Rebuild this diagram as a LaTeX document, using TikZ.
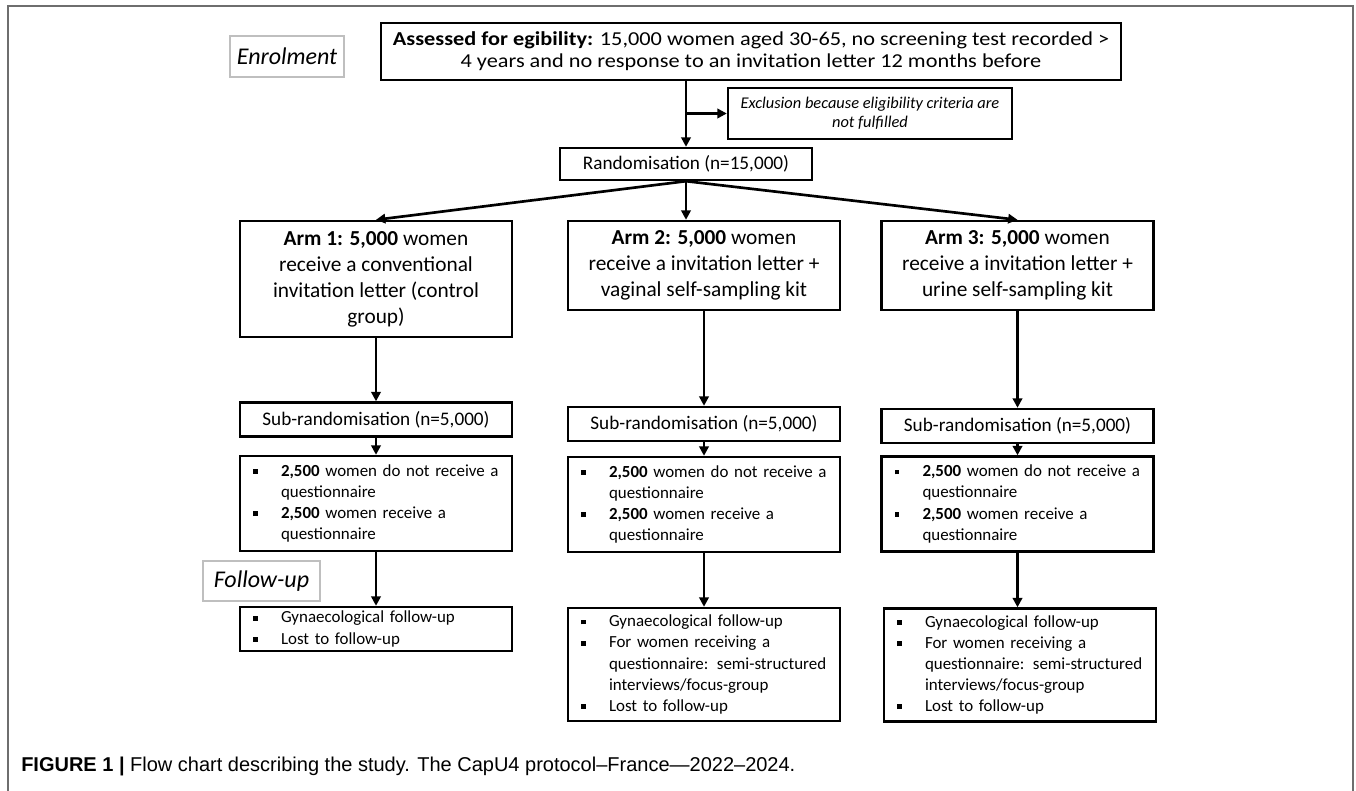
\documentclass[tikz,border=0pt]{standalone}
\usepackage{fontspec}
\setmainfont{Carlito}
\newfontfamily\widefont[FakeStretch=1.13]{Carlito}
\newfontfamily\capfont{Liberation Sans}
\usetikzlibrary{arrows.meta}

\definecolor{framegray}{HTML}{6E6E6E}
\definecolor{labgray}{HTML}{BFBFBF}

% square bullet and hanging indent for the list boxes
\newcommand{\sq}{\hspace*{9.75pt}\makebox[21pt][l]{\rule[0.3ex]{3.6pt}{3.6pt}}}
\newcommand{\ind}{\hspace*{30.75pt}}

\begin{document}
\begin{tikzpicture}[x=0.75pt, y=-0.75pt,
    box/.style = {draw, line width=1.8pt, inner sep=2pt, align=center},
    lab/.style = {draw=labgray, line width=1.5pt, inner sep=0pt, font=\fontsize{18}{20}\selectfont\itshape},
    lst/.style = {box, align=left, inner xsep=0pt, text width=204pt, font=\fontsize{12.7}{15.8}\selectfont},
    txt/.style = {font=\fontsize{14.4}{16}\selectfont},
    big/.style = {font=\fontsize{16}{19.5}\selectfont},
    arm/.style = {box, big, minimum width=204pt},
    arr/.style = {line width=2pt, -{Triangle[length=7pt,width=7pt]}}]
    \useasboundingbox (0,0) rectangle (1356,791);
    \draw[framegray, line width=1.1pt] (8,791) -- (8,6) -- (1353,6) -- (1353,791);

    % enrolment
    \node[lab, minimum width=85pt, minimum height=30.75pt] (enrol) at (287,56.5) {Enrolment};
    \node[box, font=\widefont\fontsize{14.8}{16.3}\selectfont, minimum width=555pt, minimum height=42.75pt] (assess) at (751,51.5)
        {\textbf{Assessed for egibility:} 15,000 women aged 30-65, no screening test recorded >\\
         4 years and no response to an invitation letter 12 months before};
    \node[box, font=\fontsize{12.3}{14.5}\selectfont\itshape, minimum width=213pt, minimum height=38.25pt] (excl) at (870,113.5)
        {Exclusion because eligibility criteria are\\ not fulfilled};
    \node[box, txt, minimum width=189pt, minimum height=24pt] (rand) at (686,164) {Randomisation (n=15,000)};
    \draw[arr] (rand.north |- assess.south) -- (rand.north);
    \draw[arr] (rand.north |- excl.west) -- (excl.west);

    % arms
    \node[arm, minimum height=87pt] (arm1) at (376,279)
        {\textbf{Arm 1: 5,000} women\\ receive a conventional\\ invitation letter (control\\ group)};
    \node[arm, minimum height=66.75pt] (arm2) at (704,265.5)
        {\textbf{Arm 2: 5,000} women\\ receive a invitation letter +\\ vaginal self-sampling kit};
    \node[arm, minimum height=66.75pt] (arm3) at (1017.5,265.5)
        {\textbf{Arm 3: 5,000} women\\ receive a invitation letter +\\ urine self-sampling kit};
    \draw[arr] (rand.south) -- (arm1.north);
    \draw[arr] (rand.south) -- (rand.south |- arm2.north);
    \draw[arr] (rand.south) -- (arm3.north);

    % sub-randomisation
    \node[box, txt, minimum width=204pt, minimum height=25.5pt] (sub1) at (376,419.5) {Sub-randomisation (n=5,000)};
    \node[box, txt, minimum width=204pt, minimum height=25.5pt] (sub2) at (704,424) {Sub-randomisation (n=5,000)};
    \node[box, txt, minimum width=204pt, minimum height=25.5pt] (sub3) at (1017.5,426) {Sub-randomisation (n=5,000)};
    \draw[arr] (arm1) -- (sub1);
    \draw[arr] (arm2) -- (sub2);
    \draw[arr] (arm3) -- (sub3);

    % questionnaire
    \node[lst, minimum height=71.25pt] (quest1) at (376,503.5)
        {\sq\textbf{2,500} women do not receive a\\ \ind questionnaire\\ \sq\textbf{2,500} women receive a\\ \ind questionnaire};
    \node[lst, minimum height=71.25pt] (quest2) at (704,504.5)
        {\sq\textbf{2,500} women do not receive a\\ \ind questionnaire\\ \sq\textbf{2,500} women receive a\\ \ind questionnaire};
    \node[lst, minimum height=71.25pt] (quest3) at (1017.5,504)
        {\sq\textbf{2,500} women do not receive a\\ \ind questionnaire\\ \sq\textbf{2,500} women receive a\\ \ind questionnaire};
    \draw[arr] (sub1) -- (quest1);
    \draw[arr] (sub2) -- (quest2);
    \draw[arr] (sub3) -- (quest3);

    % follow-up
    \node[lab, minimum width=87.75pt, minimum height=30pt] (follow) at (261.5,581) {Follow-up};
    \node[lst, minimum height=33pt] (fol1) at (376,629)
        {\sq Gynaecological follow-up\\ \sq Lost to follow-up};
    \node[lst, minimum height=84.75pt] (fol2) at (704,664.5)
        {\sq Gynaecological follow-up\\ \sq For women receiving a\\ \ind questionnaire: semi-structured\\ \ind interviews/focus-group\\ \sq Lost to follow-up};
    \node[lst, minimum height=84.75pt] (fol3) at (1020,665)
        {\sq Gynaecological follow-up\\ \sq For women receiving a\\ \ind questionnaire: semi-structured\\ \ind interviews/focus-group\\ \sq Lost to follow-up};
    \draw[arr] (quest1) -- (fol1);
    \draw[arr] (quest2) -- (fol2);
    \draw[arr] (quest3) -- (quest3 |- fol3.north);

    \node[anchor=base west, inner sep=0pt, font=\capfont\fontsize{15}{17}\selectfont] (caption) at (21,771)
        {\textbf{FIGURE 1 |} Flow chart describing the study. The CapU4 protocol–France—2022–2024.};
\end{tikzpicture}
\end{document}
